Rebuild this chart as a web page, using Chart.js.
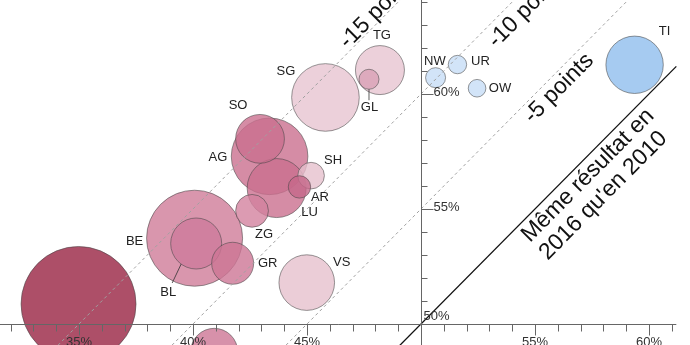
<!DOCTYPE html>
<html>
<head>
<meta charset="utf-8">
<script src="https://cdn.jsdelivr.net/npm/chart.js@4/dist/chart.umd.min.js"></script>
<style>
  html, body { margin: 0; padding: 0; background: #fff; }
  canvas { display: block; }
</style>
</head>
<body>
<canvas id="chart" width="690" height="345"></canvas>
<script>
// cantons, largest bubble first so the small ones sit on top
const cantons  = ['ZH', 'BE', 'AG', 'SG', 'LU', 'TI', 'VS', 'BL', 'SO', 'TG', 'FR', 'GR', 'ZG', 'SH', 'AR', 'GL', 'NW', 'UR', 'OW'];
const result2016 = [34.98, 40.07, 43.36, 45.81, 43.67, 59.37, 44.99, 40.14, 42.94, 48.20, 40.93, 41.74, 42.59, 45.18, 44.67, 47.72, 50.64, 51.60, 52.46];
const result2010 = [50.87, 53.73, 57.29, 59.85, 55.91, 61.27, 51.80, 53.50, 58.05, 61.04, 48.79, 52.64, 54.92, 56.45, 55.96, 60.64, 60.71, 61.28, 60.25];
const bubbleSize = [57.5, 48, 38.3, 33.8, 29.5, 28.7, 27.8, 25.5, 24.4, 24.5, 23.5, 21, 16.4, 13.3, 11.2, 10, 10, 9.2, 8.8];

const xTickLabels = [35, 40, 45, 55, 60];
const yTickLabels = [55, 60];
const pointLines = [5, 10, 15];

const bubbleColors = [
  'rgba(153,35,66,0.8)', 'rgba(208,124,153,0.8)', 'rgba(202,111,142,0.8)', 'rgba(231,196,209,0.8)',
  'rgba(202,111,142,0.8)', 'rgba(144,190,238,0.8)', 'rgba(230,192,205,0.8)', 'rgba(206,122,156,0.8)',
  'rgba(202,111,142,0.8)', 'rgba(231,196,209,0.8)', 'rgba(205,118,149,0.8)', 'rgba(205,118,149,0.8)',
  'rgba(211,130,159,0.8)', 'rgba(230,192,205,0.8)', 'rgba(198,104,137,0.8)', 'rgba(218,161,182,0.8)',
  'rgba(199,221,246,0.8)', 'rgba(199,221,246,0.8)', 'rgba(199,221,246,0.8)'
];

// label offset from bubble centre, in px
const labelOffsets = {
  BE: [-60, 3], BL: [-28, 48.5], GR: [35, 0], ZG: [12, 24], VS: [35, -20.5],
  LU: [33, 24], AR: [20.5, 11], SH: [22, -15.7], AG: [-51.7, 1.4], SO: [-22, -33],
  SG: [-39.5, -26.5], TG: [2, -34.3], GL: [0.5, 28.5], NW: [-0.7, -16.7],
  UR: [23, -3.5], OW: [23, 0], TI: [30, -33]
};
const leaders = { BL: [[-15, 20.5], [-24, 39.5]], GL: [[0, 10], [0, 21]] };

const FONT = '"Liberation Sans", Arial, Helvetica, sans-serif';

const axesPlugin = {
  id: 'axes',
  afterDatasetsDraw(chart) {
    const { ctx, scales: { x, y } } = chart;
    const x0 = Math.round(x.getPixelForValue(50)) + 0.5;
    const y0 = Math.round(y.getPixelForValue(50)) + 0.5;
    ctx.save();
    ctx.strokeStyle = '#666';
    ctx.lineWidth = 1;
    ctx.beginPath();
    ctx.moveTo(0, y0);
    ctx.lineTo(x.getPixelForValue(61.2), y0);
    ctx.moveTo(x0, 0);
    ctx.lineTo(x0, chart.height);
    for (let v = 32; v <= 61; v++) {
      if (v === 50) continue;
      const px = Math.round(x.getPixelForValue(v)) + 0.5;
      ctx.moveTo(px, y0);
      ctx.lineTo(px, y0 + (v % 5 === 0 ? 11 : 7));
    }
    for (let v = 51; v <= 64; v++) {
      const py = Math.round(y.getPixelForValue(v)) + 0.5;
      ctx.moveTo(x0, py);
      ctx.lineTo(x0 + (v % 5 === 0 ? 12 : 6), py);
    }
    ctx.stroke();

    ctx.fillStyle = '#333';
    ctx.font = '13px ' + FONT;
    ctx.textAlign = 'center';
    ctx.textBaseline = 'top';
    xTickLabels.forEach(v => ctx.fillText(v + '%', x.getPixelForValue(v), y0 + 11));
    ctx.textAlign = 'left';
    ctx.textBaseline = 'alphabetic';
    yTickLabels.forEach(v => ctx.fillText(v + '%', x0 + 12, y.getPixelForValue(v) + 2));
    ctx.fillText('50%', x0 + 2, y0 - 4.5);

    // bubble labels
    ctx.fillStyle = '#222';
    ctx.textAlign = 'center';
    ctx.textBaseline = 'middle';
    ctx.strokeStyle = '#333';
    ctx.lineWidth = 0.8;
    cantons.forEach((c, i) => {
      const off = labelOffsets[c];
      if (!off) return;
      const cx = x.getPixelForValue(result2016[i]);
      const cy = y.getPixelForValue(result2010[i]);
      ctx.fillText(c, cx + off[0], cy + off[1]);
      const l = leaders[c];
      if (l) {
        ctx.beginPath();
        ctx.moveTo(cx + l[0][0], cy + l[0][1]);
        ctx.lineTo(cx + l[1][0], cy + l[1][1]);
        ctx.stroke();
      }
    });

    // rotated notes along the diagonals
    const ang = Math.atan2(y.getPixelForValue(60) - y.getPixelForValue(50),
                           x.getPixelForValue(60) - x.getPixelForValue(50));
    const notes = [
      ['-15 points', 46.79, 61.93],
      ['-10 points', 53.31, 61.97],
      ['-5 points', 54.89, 58.69],
      ['Même résultat en', 54.78, 53.52],
      ["2016 qu'en 2010", 55.56, 52.75]
    ];
    ctx.fillStyle = '#111';
    ctx.font = '23px ' + FONT;
    ctx.textAlign = 'left';
    ctx.textBaseline = 'alphabetic';
    notes.forEach(([t, vx, vy]) => {
      ctx.save();
      ctx.translate(x.getPixelForValue(vx), y.getPixelForValue(vy));
      ctx.rotate(ang);
      ctx.fillText(t, 0, 0);
      ctx.restore();
    });
    ctx.restore();
  }
};

const datasets = [{
  type: 'bubble',
  order: 1,
  data: cantons.map((c, i) => ({ x: result2016[i], y: result2010[i], r: bubbleSize[i] })),
  backgroundColor: bubbleColors,
  borderColor: 'rgba(70,70,70,0.7)',
  borderWidth: 0.8
}];
pointLines.forEach(k => datasets.push({
  type: 'line',
  order: 0,
  data: [{ x: 30, y: 30 + k }, { x: 66, y: 66 + k }],
  borderColor: '#a0a0a0',
  borderWidth: 1,
  borderDash: [3, 3],
  pointRadius: 0,
  fill: false
}));
datasets.push({
  type: 'line',
  order: 0,
  data: [{ x: 45, y: 45 }, { x: 61.2, y: 61.2 }],
  borderColor: '#111',
  borderWidth: 1.3,
  pointRadius: 0,
  fill: false
});

new Chart(document.getElementById('chart'), {
  type: 'bubble',
  data: { datasets },
  options: {
    responsive: false,
    animation: false,
    layout: { padding: 0, autoPadding: false },
    plugins: { legend: { display: false }, tooltip: { enabled: false } },
    scales: {
      x: { type: 'linear', display: false, min: 31.535, max: 61.8 },
      y: { type: 'linear', display: false, min: 49.087, max: 64.087 }
    }
  },
  plugins: [axesPlugin]
});
</script>
</body>
</html>
